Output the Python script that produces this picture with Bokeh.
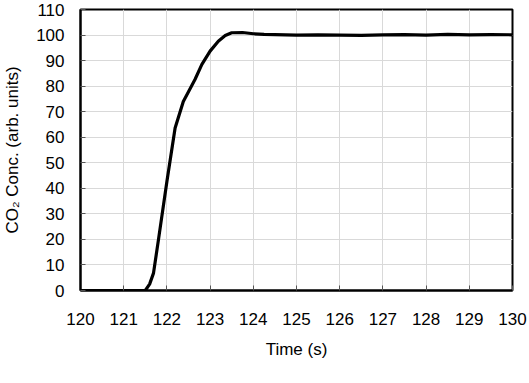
from bokeh.plotting import figure
from bokeh.models import Range1d, SingleIntervalTicker
from bokeh.embed import file_html
from bokeh.resources import INLINE

time_s = [120.0, 121.5, 121.6, 121.69, 121.81, 122.0, 122.19, 122.38, 122.65, 122.81,
          123.0, 123.19, 123.35, 123.5, 123.75, 124.0, 124.25, 124.5, 125.0, 125.5,
          126.0, 126.5, 127.0, 127.5, 128.0, 128.5, 129.0, 129.5, 130.0]
co2_conc = [0.0, 0.0, 2.5, 6.8, 20.5, 42.7, 63.6, 74.0, 82.6, 88.5,
            93.7, 97.6, 99.8, 100.9, 101.0, 100.5, 100.3, 100.2, 100.0, 100.1,
            100.0, 99.9, 100.1, 100.2, 100.0, 100.3, 100.1, 100.2, 100.1]

x_label = "Time (s)"
y_label = "CO\u2082 Conc. (arb. units)"

FONT = "Liberation Sans"

p = figure(width=529, height=383, output_backend="svg", toolbar_location=None,
           x_range=Range1d(120, 130), y_range=Range1d(0, 110),
           min_border_left=77, min_border_right=20, min_border_top=9, min_border_bottom=93)
p.frame_width = 432
p.frame_height = 281

p.line(time_s, co2_conc, line_color="black", line_width=3.2)

p.outline_line_color = "black"
p.outline_line_width = 2
p.background_fill_color = "white"
p.border_fill_color = "white"

p.xaxis.ticker = SingleIntervalTicker(interval=1)
p.yaxis.ticker = SingleIntervalTicker(interval=10)
p.xaxis.minor_tick_line_color = None
p.yaxis.minor_tick_line_color = None

for ax in (p.xaxis, p.yaxis):
    ax.axis_line_color = "black"
    ax.axis_line_width = 2
    ax.major_tick_in = 5
    ax.major_tick_out = 0
    ax.major_tick_line_color = "#555555"
    ax.major_label_text_font = FONT
    ax.major_label_text_font_size = "17px"
    ax.major_label_text_color = "black"
    ax.axis_label_text_font = FONT
    ax.axis_label_text_font_size = "17px"
    ax.axis_label_text_font_style = "normal"
    ax.axis_label_text_color = "black"

p.xaxis.axis_label = x_label
p.yaxis.axis_label = y_label
p.xaxis.major_label_standoff = 18
p.yaxis.major_label_standoff = 12
p.xaxis.axis_label_standoff = 12
p.yaxis.axis_label_standoff = 11

p.xgrid.grid_line_color = "#d9d9d9"
p.ygrid.grid_line_color = "#d9d9d9"
p.xgrid.grid_line_width = 1
p.ygrid.grid_line_width = 1

open("out.html", "w").write(file_html(p, INLINE))
